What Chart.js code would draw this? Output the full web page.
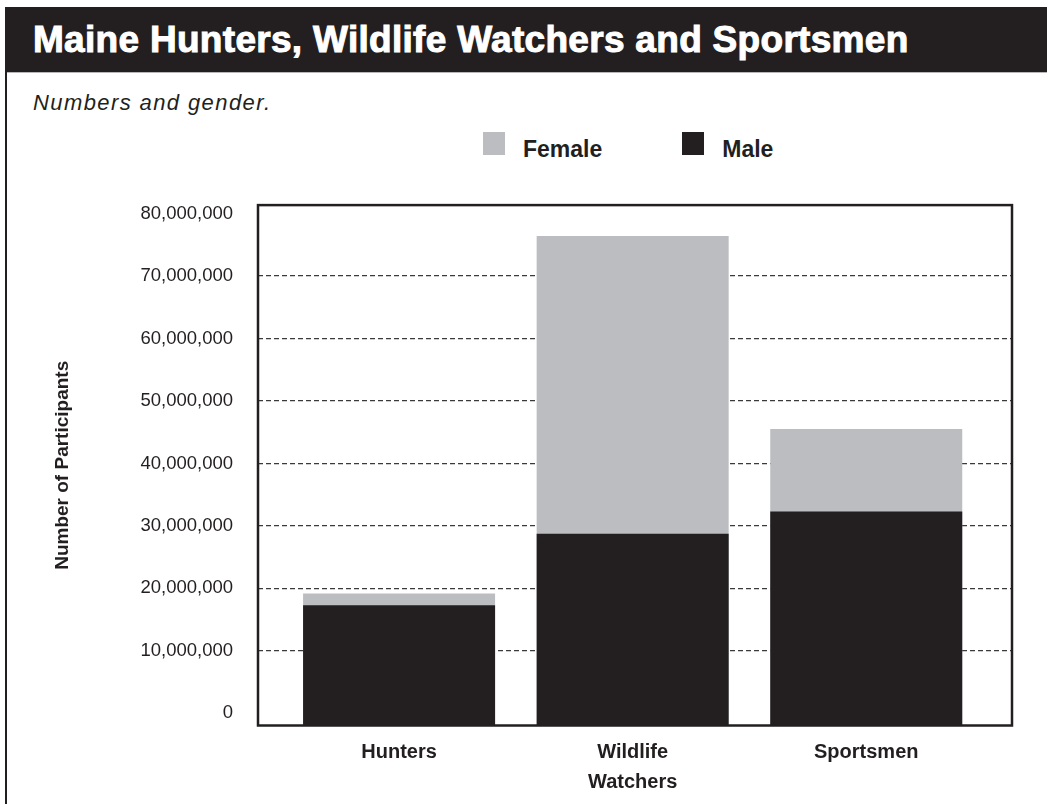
<!DOCTYPE html>
<html>
<head>
<meta charset="utf-8">
<title>Maine Hunters, Wildlife Watchers and Sportsmen</title>
<script src="https://cdn.jsdelivr.net/npm/chart.js@4.4.1/dist/chart.umd.min.js"></script>
<style>
    body {
        margin: 0;
        width: 1047px;
        height: 804px;
        background: #fff;
        position: relative;
        overflow: hidden;
        font-family: "Liberation Sans", Arial, sans-serif;
        color: #231f20;
    }
    .frame-left {
        position: absolute;
        left: 5px;
        top: 7px;
        width: 2px;
        height: 797px;
        background: #231f20;
    }
    .banner {
        position: absolute;
        left: 5px;
        right: 0;
        top: 7px;
        height: 65px;
        background: #231f20;
        border-bottom: 1px solid #b8b8b8;
    }
    .banner h1 {
        margin: 0;
        color: #fff;
        font-size: 37px;
        font-weight: bold;
        line-height: 65px;
        padding-left: 28px;
        letter-spacing: 0.3px;
        -webkit-text-stroke: 1px #fff;
        white-space: nowrap;
    }
    .subtitle {
        position: absolute;
        left: 33px;
        top: 90px;
        font-style: italic;
        font-size: 22px;
        letter-spacing: 1.4px;
    }
    #legend {
        position: absolute;
        left: 483px;
        top: 132px;
        display: flex;
    }
    #legend .item {
        display: flex;
        align-items: flex-start;
        margin-right: 80px;
    }
    #legend .swatch {
        width: 22px;
        height: 23px;
    }
    #legend .label {
        margin-left: 18px;
        padding-top: 6px;
        font-size: 23px;
        font-weight: bold;
        line-height: 23px;
    }
    .chart-box {
        position: absolute;
        left: 0;
        top: 169px;
        width: 1047px;
        height: 635px;
    }
</style>
</head>
<body>
<div class="banner"><h1>Maine Hunters, Wildlife Watchers and Sportsmen</h1></div>
<div class="frame-left"></div>
<div class="subtitle">Numbers and gender.</div>
<div id="legend"></div>
<div class="chart-box"><canvas id="chart"></canvas></div>

<script>
const categories = ["Hunters", ["Wildlife", "Watchers"], "Sportsmen"];
const male = [17300000, 28750000, 32300000];
const female = [1870000, 47650000, 13200000];
const yTicks = [0, 10000000, 20000000, 30000000, 40000000, 50000000, 60000000, 70000000, 80000000];

// plot box runs a little past 0 and 80,000,000 in the original
const yMin = -1950000;
const yMax = 81350000;

const maleColor = "#231f20";
const femaleColor = "#bcbdc0";

const totals = male.map((v, i) => v + female[i]);

const frame = {
    id: "frame",
    afterDraw(chart) {
        const {ctx, chartArea: a} = chart;
        ctx.save();
        ctx.strokeStyle = "#231f20";
        ctx.lineWidth = 2.5;
        ctx.strokeRect(a.left, a.top, a.right - a.left, a.bottom - a.top);
        ctx.restore();
    }
};

const chart = new Chart(document.getElementById("chart"), {
    type: "bar",
    data: {
        datasets: [
            {
                label: "Female",
                data: totals.map((v, i) => ({x: i, y: v})),
                backgroundColor: femaleColor,
                base: yMin,
                grouped: false,
                order: 2
            },
            {
                label: "Male",
                data: male.map((v, i) => ({x: i, y: v})),
                backgroundColor: maleColor,
                base: yMin,
                grouped: false,
                order: 1
            }
        ]
    },
    options: {
        responsive: true,
        maintainAspectRatio: false,
        animation: false,
        categoryPercentage: 1,
        barPercentage: 0.822,
        layout: {
            padding: {top: 13, right: 35, bottom: 0, left: 0}
        },
        scales: {
            x: {
                type: "linear",
                min: -0.604,
                max: 2.624,
                offset: false,
                grid: {display: false, offset: false, drawTicks: false},
                border: {display: false},
                afterBuildTicks: (axis) => {
                    axis.ticks = categories.map((c, i) => ({value: i}));
                },
                afterFit: (axis) => {
                    axis.height = 78.5;
                },
                ticks: {
                    padding: 11.5,
                    color: "#231f20",
                    autoSkip: false,
                    maxRotation: 0,
                    font: {family: "Liberation Sans", size: 20, weight: "bold", lineHeight: 1.5},
                    callback: (value) => categories[value]
                }
            },
            y: {
                min: yMin,
                max: yMax,
                afterBuildTicks: (axis) => {
                    axis.ticks = yTicks.map(v => ({value: v}));
                },
                afterFit: (axis) => {
                    axis.width = 258;
                },
                grid: {
                    drawTicks: false,
                    color: (c) => (c.tick.value === 0 || c.tick.value === 80000000) ? "rgba(0,0,0,0)" : "#3a3a3a",
                    lineWidth: 1.3
                },
                border: {display: false, dash: [5, 3]},
                ticks: {
                    padding: 25,
                    color: "#231f20",
                    font: {family: "Liberation Sans", size: 18.5},
                    callback: (value) => value.toLocaleString("en-US")
                },
                title: {
                    display: true,
                    text: "Number of Participants",
                    color: "#231f20",
                    font: {family: "Liberation Sans", size: 19, weight: "bold"},
                    padding: {top: 51, bottom: 0}
                }
            }
        },
        plugins: {
            legend: {display: false},
            tooltip: {enabled: false}
        }
    },
    plugins: [frame]
});

// legend built from the chart's datasets, in dataset order
const legendEl = document.getElementById("legend");
chart.data.datasets.forEach((ds) => {
    const item = document.createElement("div");
    item.className = "item";
    const swatch = document.createElement("div");
    swatch.className = "swatch";
    swatch.style.background = ds.backgroundColor;
    const label = document.createElement("div");
    label.className = "label";
    label.textContent = ds.label;
    item.appendChild(swatch);
    item.appendChild(label);
    legendEl.appendChild(item);
});
</script>
</body>
</html>
